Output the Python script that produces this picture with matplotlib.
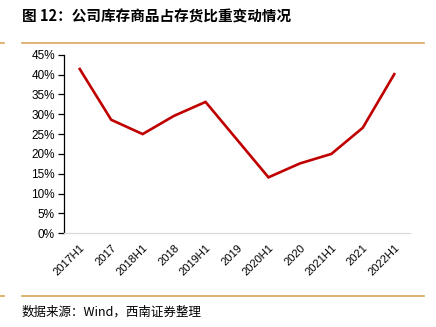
import matplotlib.pyplot as plt
from matplotlib.lines import Line2D
from matplotlib.ticker import FuncFormatter

plt.rcParams['font.family'] = ['Liberation Sans', 'Noto Sans CJK SC', 'DejaVu Sans']

# 库存商品占存货比重
periods = ['2017H1', '2017', '2018H1', '2018', '2019H1', '2019',
           '2020H1', '2020', '2021H1', '2021', '2022H1']
share = [41.4, 28.6, 25.0, 29.6, 33.1, 23.6, 14.1, 17.6, 20.0, 26.6, 40.1]
y_ticks = [0, 5, 10, 15, 20, 25, 30, 35, 40, 45]

W, H = 436, 327
fig = plt.figure(figsize=(W / 100, H / 100), dpi=100)
ax = fig.add_axes([64 / W, (H - 233.3) / H, (410 - 64) / W, (233.3 - 54.7) / H])

x = list(range(len(periods)))
ax.plot(x, share, color='#C00000', linewidth=1.9, solid_joinstyle='miter')

ax.set_xlim(-0.5, len(periods) - 0.5)
ax.set_ylim(0, 45)
ax.set_yticks(y_ticks)
ax.yaxis.set_major_formatter(FuncFormatter(lambda v, p: f'{v:.0f}%'))
ax.set_xticks(x)
ax.set_xticklabels(periods, rotation=45, ha='right', rotation_mode='anchor')

ax.spines['top'].set_visible(False)
ax.spines['right'].set_visible(False)
ax.spines['left'].set_color('black')
ax.spines['left'].set_linewidth(0.9)
ax.spines['bottom'].set_color('#D9D9D9')
ax.spines['bottom'].set_linewidth(0.9)
ax.tick_params(axis='y', length=4, width=0.9, labelsize=8.5, pad=2.5, colors='black')
ax.tick_params(axis='x', length=0, labelsize=8, pad=7)

# 标题、分隔线与资料来源
orange = '#D9A55B'
fig.text(22 / W, 1 - 17 / H, '图 12：公司库存商品占存货比重变动情况',
         fontsize=10.5, fontweight='bold', va='center', ha='left',
         family=['Noto Sans CJK SC', 'DejaVu Sans'])
for yy in (43, 296):
    fig.add_artist(Line2D([22 / W, 424 / W], [1 - yy / H] * 2, color=orange, linewidth=1.2))
    fig.add_artist(Line2D([0, 4 / W], [1 - yy / H] * 2, color=orange, linewidth=1.2))
fig.text(22 / W, 1 - 312 / H, '数据来源：Wind，西南证券整理', fontsize=9, style='italic',
         va='center', ha='left', family=['Noto Sans CJK SC', 'DejaVu Sans'])

fig.savefig('out.png', dpi=100)
